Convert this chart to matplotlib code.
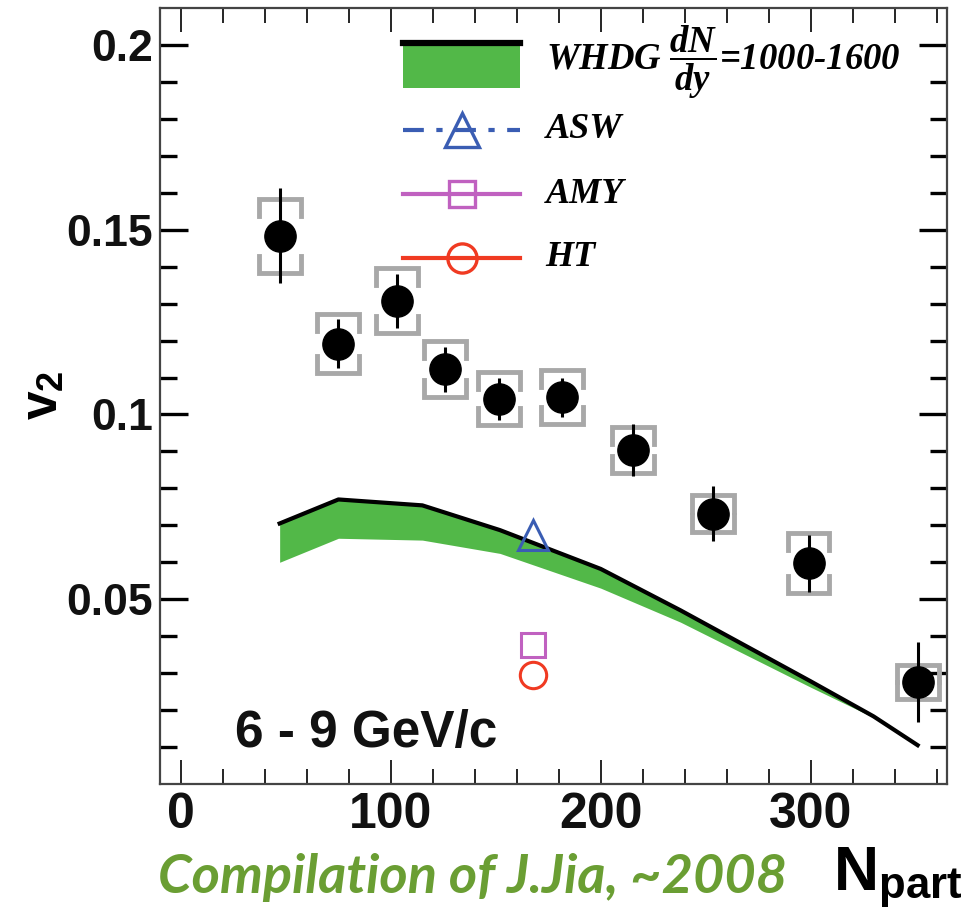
import numpy as np
import matplotlib
matplotlib.use('Agg')
import matplotlib.pyplot as plt
from matplotlib.lines import Line2D
from matplotlib.patches import Rectangle

plt.rcParams['font.family'] = ['Liberation Sans', 'DejaVu Sans']
plt.rcParams['mathtext.fontset'] = 'custom'
plt.rcParams['mathtext.it'] = 'Liberation Serif:italic:bold'
plt.rcParams['mathtext.rm'] = 'Liberation Serif:bold'
plt.rcParams['mathtext.bf'] = 'Liberation Sans:bold'

# data: PHENIX pi0 v2, 6-9 GeV/c
npart = [47, 75, 103, 126, 151.5, 181.5, 215.5, 253.5, 299, 351]
v2 = [0.1484, 0.1192, 0.1308, 0.1122, 0.1043, 0.1046, 0.0903, 0.0732, 0.0597, 0.0276]
v2_stat = [0.0128, 0.0066, 0.0073, 0.0060, 0.0057, 0.0054, 0.0070, 0.0074, 0.0077, 0.0108]
v2_sys = [0.0100, 0.0079, 0.0088, 0.0076, 0.0072, 0.0073, 0.0062, 0.0051, 0.0081, 0.0045]

# WHDG band
whdg_npart = [47, 75, 115, 152, 200, 238, 300, 330, 351]
whdg_hi = [0.0705, 0.0770, 0.0754, 0.0687, 0.0582, 0.0470, 0.0278, 0.0183, 0.0105]
whdg_lo = [0.0600, 0.0665, 0.0660, 0.0624, 0.0530, 0.0438, 0.0262, 0.0180, 0.0105]

# single-point model predictions
asw = (167.7, 0.0673)
amy = (167.7, 0.0376)
ht = (167.7, 0.0295)

green = '#52b848'
blue = '#3a5db3'
magenta = '#c061c0'
red = '#f03a22'
gray = '#a8a8a8'

fig = plt.figure(figsize=(9.71, 9.16), dpi=100)
ax = fig.add_axes([0.1648, 0.1441, 0.8105, 0.8472])

ax.fill_between(whdg_npart, whdg_lo, whdg_hi, color=green, lw=0, zorder=2)
ax.plot(whdg_npart, whdg_hi, color='k', lw=3, zorder=3)

# systematic brackets
bw = 10
for x, y, s in zip(npart, v2, v2_sys):
    leg = min(0.0046, s)
    for sign in (1, -1):
        yy = y + sign * s
        ax.plot([x - bw, x - bw, x + bw, x + bw],
                [yy - sign * leg, yy, yy, yy - sign * leg],
                color=gray, lw=3.5, solid_joinstyle='miter', zorder=4)

ax.errorbar(npart, v2, yerr=v2_stat, fmt='o', color='k', ms=22.5,
            elinewidth=2.2, capsize=0, zorder=5)

ax.plot(*asw, marker='^', ms=21, mfc='none', mec=blue, mew=2.2, zorder=6)
ax.plot(*amy, marker='s', ms=17, mfc='none', mec=magenta, mew=2.2, zorder=6)
ax.plot(*ht, marker='o', ms=19, mfc='none', mec=red, mew=2.2, zorder=6)

ax.set_xlim(-10, 365)
ax.set_ylim(0, 0.21)
ax.set_xticks([0, 100, 200, 300])
ax.set_xticks(np.arange(-0, 365, 20), minor=True)
ax.set_yticks([0.05, 0.1, 0.15, 0.2])
ax.set_yticks(np.arange(0.01, 0.21, 0.01), minor=True)
ax.set_yticklabels(['0.05', '0.1', '0.15', '0.2'])
ax.tick_params(axis='both', which='both', direction='in', top=True, right=True)
ax.tick_params(axis='y', which='major', length=20, width=2.4, labelsize=32, pad=5)
ax.tick_params(axis='y', which='minor', length=12, width=2.4)
ax.tick_params(axis='x', which='major', length=17, width=1.2, labelsize=36, pad=6)
ax.tick_params(axis='x', which='minor', length=11, width=1.2)
for lab in ax.get_xticklabels() + ax.get_yticklabels():
    lab.set_fontweight('bold')
    lab.set_color('#111111')
for sp in ax.spines.values():
    sp.set_linewidth(1.6)
    sp.set_color('#444444')

# legend drawn by hand
x0, x1, xm, xt = 0.309, 0.457, 0.384, 0.49
ax.add_patch(Rectangle((x0, 0.8969), x1 - x0, 0.0619, transform=ax.transAxes,
                       color=green, lw=0, zorder=7))
ax.add_line(Line2D([x0, x1], [0.9555, 0.9555], transform=ax.transAxes,
                   color='k', lw=4.5, zorder=8))
serif = dict(family='Liberation Serif', weight='bold', style='italic')
ax.text(xt, 0.93, r'WHDG $\dfrac{dN}{dy}$=1000-1600', transform=ax.transAxes,
        fontsize=26.5, va='center', ha='left', **serif)
rows = [(0.843, blue, '^', 24, (0, (5, 3, 1.5, 3)), 'ASW'),
        (0.760, magenta, 's', 19, '-', 'AMY'),
        (0.678, red, 'o', 21, '-', 'HT')]
for yy, c, m, ms, ls, name in rows:
    ax.add_line(Line2D([x0, x1], [yy, yy], transform=ax.transAxes,
                       color=c, lw=3, ls=ls, zorder=7))
    ax.add_line(Line2D([xm], [yy], transform=ax.transAxes, marker=m, ms=ms,
                       mfc='none', mec=c, mew=2.4, zorder=8))
    ax.text(xt, yy, name, transform=ax.transAxes, fontsize=26,
            va='center', ha='left', **serif)

ax.text(0.0953, 0.0477, '6 - 9 GeV/c', transform=ax.transAxes, fontsize=37,
        fontweight='bold', va='baseline', ha='left', color='#111111')

fig.text(0.0453, 0.5688, r'$\mathbf{v}_\mathbf{2}$', rotation=90, fontsize=37,
         ha='center', va='center')
fig.text(0.858, 0.0284, r'$\mathbf{N}_\mathbf{part}$', fontsize=45,
         ha='left', va='baseline')
fig.text(0.163, 0.025, 'Compilation of J.Jia, ~2008', fontsize=39,
         family=['Lato', 'DejaVu Sans'], weight='bold', style='italic',
         color='#6a9e33', ha='left', va='baseline')

fig.savefig('out.png', dpi=100)
